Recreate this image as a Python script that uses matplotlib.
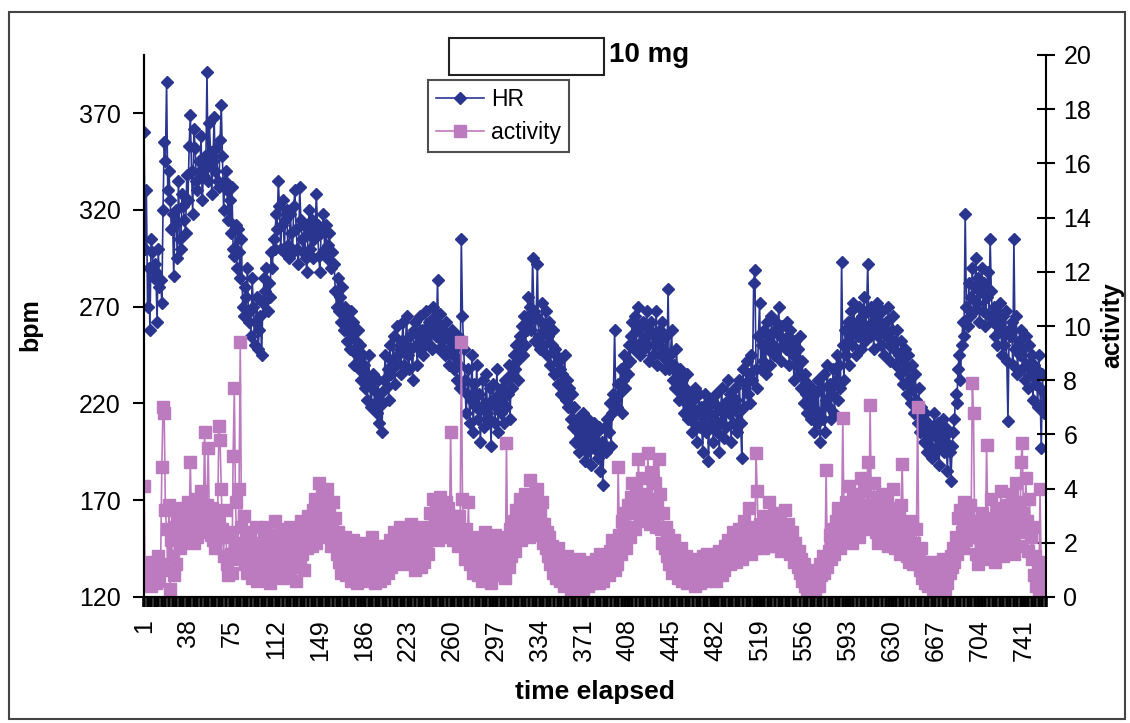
import numpy as np
import matplotlib
matplotlib.use("Agg")
from matplotlib import pyplot as plt
from matplotlib.patches import Rectangle

plt.rcParams['font.family'] = ['Liberation Sans', 'DejaVu Sans']

# heart rate (bpm), one value per time step
hr = [
    360, 300, 330, 270, 290, 258, 305, 298, 285, 292, 288, 262, 300, 280, 284, 272, 320, 355, 345, 386,
    330, 340, 325, 310, 318, 286, 312, 320, 295, 335, 305, 300, 328, 322, 315, 308, 338, 325, 353, 369,
    340, 318, 362, 352, 335, 330, 345, 340, 358, 325, 338, 348, 342, 391, 335, 365, 350, 328, 345, 368,
    340, 352, 335, 332, 356, 374, 348, 320, 335, 340, 330, 315, 325, 308, 332, 300, 296, 312, 290, 310,
    298, 285, 305, 270, 265, 280, 275, 290, 262, 268, 255, 285, 270, 250, 262, 275, 248, 258, 265, 245,
    272, 285, 278, 290, 268, 282, 275, 298, 290, 305, 300, 318, 310, 335, 322, 300, 312, 325, 298, 315,
    320, 302, 295, 318, 308, 298, 322, 330, 310, 300, 292, 332, 315, 305, 298, 312, 295, 288, 308, 320,
    300, 315, 295, 305, 310, 328, 312, 296, 288, 308, 310, 318, 300, 312, 295, 302, 308, 290, 298, 292,
    292, 278, 270, 285, 268, 275, 262, 280, 258, 270, 265, 252, 260, 248, 268, 255, 262, 240, 252, 245,
    258, 238, 250, 232, 245, 240, 228, 235, 222, 245, 230, 218, 228, 235, 220, 226, 215, 232, 210, 225,
    205, 220, 232, 245, 228, 238, 222, 250, 235, 242, 255, 230, 240, 260, 245, 248, 235, 252, 262, 240,
    250, 265, 245, 238, 255, 248, 232, 258, 262, 250, 240, 255, 265, 248, 258, 245, 252, 268, 255, 260,
    262, 250, 248, 270, 258, 265, 255, 284, 248, 266, 260, 252, 258, 245, 262, 255, 248, 240, 252, 258,
    245, 238, 250, 232, 255, 240, 228, 305, 265, 248, 232, 215, 225, 238, 210, 222, 245, 205, 230, 218,
    240, 212, 225, 200, 218, 232, 208, 220, 235, 215, 212, 228, 198, 222, 230, 210, 218, 238, 205, 225,
    215, 228, 220, 210, 232, 218, 225, 240, 212, 235, 228, 245, 238, 250, 242, 232, 255, 248, 260, 245,
    265, 250, 258, 275, 262, 270, 258, 295, 268, 252, 265, 292, 255, 248, 262, 272, 250, 258, 268, 245,
    255, 262, 240, 250, 258, 235, 248, 245, 230, 242, 238, 225, 235, 228, 245, 222, 232, 218, 228, 212,
    225, 208, 218, 200, 212, 205, 195, 210, 198, 215, 202, 190, 208, 195, 212, 200, 188, 205, 198, 210,
    196, 205, 192, 208, 185, 200, 178, 198, 208, 195, 212, 205, 220, 198, 215, 225, 258, 222, 218, 230,
    225, 238, 215, 232, 245, 228, 240, 235, 250, 242, 255, 262, 248, 265, 250, 258, 270, 245, 260, 252,
    262, 248, 255, 268, 250, 242, 258, 262, 245, 255, 250, 268, 240, 252, 258, 245, 262, 248, 238, 255,
    242, 279, 238, 245, 258, 232, 240, 228, 248, 235, 222, 238, 225, 232, 215, 228, 220, 235, 212, 225,
    218, 205, 222, 210, 228, 200, 215, 225, 208, 218, 195, 212, 225, 205, 220, 190, 215, 208, 222, 200,
    212, 225, 205, 218, 195, 210, 228, 215, 202, 220, 208, 232, 215, 225, 200, 218, 210, 228, 222, 205,
    215, 232, 210, 192, 238, 218, 230, 242, 225, 235, 220, 245, 232, 282, 289, 238, 228, 255, 272, 238,
    250, 242, 258, 235, 262, 248, 255, 240, 265, 250, 245, 258, 262, 248, 270, 255, 242, 260, 250, 252,
    248, 262, 255, 240, 258, 250, 245, 232, 252, 240, 248, 235, 255, 228, 242, 220, 235, 225, 215, 230,
    222, 212, 228, 218, 205, 225, 210, 232, 215, 200, 228, 212, 235, 205, 222, 240, 218, 230, 212, 225,
    238, 215, 232, 245, 222, 240, 228, 293, 250, 232, 258, 245, 262, 240, 255, 268, 250, 272, 258, 245,
    262, 255, 270, 248, 265, 258, 275, 252, 268, 292, 260, 255, 270, 262, 248, 265, 258, 272, 255, 262,
    250, 268, 258, 245, 262, 255, 270, 250, 242, 258, 265, 248, 252, 240, 258, 245, 235, 252, 242, 230,
    248, 238, 225, 245, 232, 220, 240, 228, 215, 235, 222, 210, 228, 205, 218, 212, 200, 215, 205, 195,
    210, 198, 208, 192, 205, 215, 195, 202, 210, 188, 205, 198, 212, 195, 208, 200, 185, 205, 195, 180,
    198, 205, 212, 225, 220, 238, 245, 232, 250, 262, 255, 318, 270, 260, 282, 265, 275, 290, 268, 280,
    295, 272, 285, 262, 278, 290, 268, 282, 260, 275, 288, 265, 305, 278, 262, 270, 255, 268, 250, 262,
    272, 258, 245, 265, 250, 268, 242, 211, 258, 255, 262, 240, 305, 248, 265, 235, 252, 245, 258, 238,
    248, 232, 255, 240, 228, 250, 235, 245, 222, 240, 230, 238, 218, 245, 228, 197, 235, 215, 225, 218,
]

# activity counts, same time steps
activity = [
    4.1, 0.8, 0.5, 1.2, 0.6, 1.0, 0.4, 1.3, 0.7, 1.1, 0.5, 0.9, 1.5, 0.6, 1.2, 4.8, 7.0, 6.8, 3.2, 2.5,
    1.0, 3.4, 0.3, 2.1, 1.5, 0.8, 2.6, 1.2, 3.0, 2.2, 1.8, 2.9, 3.3, 2.0, 2.7, 3.1, 2.4, 3.5, 2.8, 5.0,
    2.5, 3.2, 2.0, 2.8, 3.6, 2.2, 3.0, 2.6, 3.9, 2.4, 3.1, 6.1, 2.7, 3.4, 5.5, 2.9, 2.3, 3.3, 2.1, 2.8,
    1.8, 2.6, 3.0, 6.3, 5.8, 4.0, 2.5, 1.5, 3.2, 2.2, 1.2, 0.8, 2.4, 1.6, 0.9, 5.2, 7.7, 3.5, 2.0, 1.4,
    4.0, 9.4, 2.6, 1.8, 3.0, 1.2, 2.2, 0.9, 1.6, 2.4, 1.1, 0.7, 1.9, 1.3, 2.6, 0.6, 1.5, 2.0, 1.0, 1.7,
    0.8, 2.2, 1.4, 2.6, 1.1, 1.8, 0.5, 2.3, 1.3, 1.9, 2.8, 1.5, 0.9, 2.1, 1.6, 2.5, 1.2, 0.7, 1.8, 2.2,
    1.4, 2.0, 0.9, 2.6, 1.7, 1.1, 2.3, 1.5, 0.6, 1.9, 2.4, 1.2, 2.8, 1.6, 2.1, 1.0, 2.5, 1.8, 3.0, 2.2,
    2.7, 1.9, 3.2, 2.4, 3.6, 2.0, 2.9, 4.2, 3.1, 2.5, 3.8, 2.2, 3.4, 2.8, 4.0, 2.6, 3.3, 1.9, 2.7, 3.5,
    2.1, 2.9, 1.6, 2.4, 1.3, 2.0, 0.9, 1.7, 1.2, 2.2, 0.8, 1.5, 1.0, 1.9, 0.6, 1.3, 2.1, 0.9, 1.6, 0.5,
    1.2, 1.8, 0.7, 1.4, 0.9, 2.0, 1.1, 0.6, 1.7, 1.3, 0.8, 1.5, 2.2, 1.0, 0.5, 1.4, 1.9, 0.8, 1.2, 0.6,
    1.0, 1.6, 0.7, 1.3, 1.9, 0.9, 1.5, 2.1, 1.1, 1.7, 2.4, 1.4, 2.0, 1.2, 1.8, 2.6, 1.5, 2.2, 1.3, 1.9,
    2.5, 1.6, 2.1, 1.2, 1.8, 2.7, 1.4, 2.2, 1.0, 1.7, 2.3, 1.5, 1.9, 1.1, 2.0, 2.6, 1.3, 1.8, 2.4, 1.6,
    2.2, 3.1, 2.6, 3.6, 2.3, 2.9, 3.4, 2.1, 2.8, 3.7, 2.4, 3.2, 2.7, 3.0, 3.5, 2.5, 3.3, 2.2, 6.1, 2.6,
    2.1, 3.0, 2.4, 2.8, 1.9, 3.0, 2.4, 9.4, 3.6, 2.0, 1.4, 2.5, 1.8, 3.5, 1.2, 2.1, 1.6, 0.9, 1.9, 1.3,
    1.6, 0.8, 2.2, 1.4, 0.6, 1.8, 1.1, 2.4, 0.7, 1.5, 2.0, 1.2, 0.5, 1.7, 1.0, 2.3, 1.4, 0.8, 1.9, 1.2,
    0.9, 1.6, 2.2, 1.3, 0.7, 5.7, 1.8, 1.1, 2.5, 1.5, 2.0, 2.8, 1.7, 3.2, 2.3, 2.9, 3.6, 2.1, 2.7, 3.3,
    2.4, 3.8, 2.9, 3.4, 2.2, 4.3, 3.0, 2.5, 3.7, 2.8, 3.3, 4.0, 2.6, 3.1, 2.3, 3.5, 2.0, 2.7, 1.8, 2.4,
    1.5, 2.2, 1.2, 1.9, 0.9, 1.6, 1.3, 0.7, 1.8, 1.1, 0.6, 1.4, 0.9, 0.4, 1.2, 0.8, 1.5, 0.5, 1.0, 0.3,
    0.9, 1.3, 0.6, 1.1, 0.4, 0.8, 1.4, 0.5, 1.0, 0.2, 0.7, 1.2, 0.6, 1.0, 0.4, 0.9, 1.3, 0.5, 1.1, 0.8,
    1.4, 0.7, 1.2, 0.5, 1.6, 1.0, 0.6, 1.3, 0.9, 1.5, 1.1, 0.8, 1.7, 1.2, 2.1, 1.4, 1.0, 1.8, 1.2, 4.8,
    2.3, 1.6, 2.8, 2.0, 3.1, 2.4, 1.8, 3.4, 2.6, 2.2, 3.7, 4.2, 3.3, 2.5, 4.0, 3.1, 5.1, 3.5, 2.8, 4.4,
    3.2, 3.8, 3.0, 2.9, 5.3, 3.4, 2.7, 4.6, 3.6, 3.0, 4.2, 2.6, 3.4, 5.1, 3.8, 2.5, 2.0, 3.1, 1.8, 2.6,
    1.5, 2.3, 1.2, 1.9, 0.9, 1.6, 2.1, 1.1, 1.7, 0.7, 1.4, 1.0, 1.8, 0.6, 1.3, 0.9, 1.5, 0.5, 1.1, 0.8,
    1.2, 0.6, 1.4, 0.9, 0.4, 1.1, 0.7, 1.3, 0.5, 1.0, 1.5, 0.8, 1.2, 0.6, 1.6, 1.0, 0.7, 1.3, 0.9, 1.5,
    1.1, 0.6, 1.4, 0.9, 1.7, 1.2, 0.8, 1.5, 1.0, 1.9, 1.3, 2.1, 1.6, 1.2, 2.0, 1.5, 2.4, 1.8, 1.3, 2.2,
    1.7, 2.5, 1.9, 1.4, 2.3, 2.8, 1.8, 2.4, 2.0, 3.3, 2.2, 1.6, 2.6, 2.1, 1.8, 5.3, 3.9, 1.9, 2.7, 2.0,
    2.5, 1.8, 3.0, 2.2, 2.7, 1.9, 3.5, 2.4, 2.0, 2.8, 2.3, 3.1, 1.9, 2.6, 2.2, 2.9, 1.7, 2.4, 2.0, 3.2,
    2.5, 1.9, 2.7, 2.2, 1.6, 2.4, 1.8, 1.3, 2.0, 1.5, 1.1, 1.7, 0.9, 1.4, 0.6, 1.2, 0.4, 1.0, 0.3, 0.8,
    0.5, 0.2, 0.9, 0.3, 0.7, 0.1, 0.6, 1.0, 0.4, 1.2, 0.8, 1.5, 0.9, 1.3, 4.7, 1.1, 1.7, 2.3, 1.4, 1.9,
    2.5, 1.6, 2.8, 2.1, 3.3, 2.4, 1.8, 2.7, 6.6, 2.9, 2.2, 3.5, 2.6, 4.1, 2.3, 3.0, 2.0, 3.8, 2.5, 3.2,
    2.7, 3.6, 2.2, 4.4, 3.0, 2.5, 3.9, 2.8, 3.3, 5.0, 2.6, 7.1, 3.4, 2.9, 4.2, 3.1, 2.4, 3.7, 2.0, 3.2,
    2.6, 3.8, 2.1, 3.0, 2.4, 3.5, 1.9, 2.8, 3.3, 2.2, 4.0, 2.7, 1.8, 3.1, 2.3, 2.9, 1.6, 3.4, 4.9, 2.5,
    1.9, 2.6, 1.5, 2.2, 1.3, 2.8, 1.8, 1.2, 2.0, 1.6, 2.5, 7.0, 1.4, 1.0, 1.8, 0.7, 1.3, 0.5, 1.1, 0.8,
    0.4, 1.0, 0.6, 1.3, 0.3, 0.9, 0.5, 1.2, 0.7, 0.4, 1.1, 0.6, 1.4, 0.8, 0.3, 1.0, 0.5, 1.2, 0.9, 1.5,
    1.1, 1.8, 1.3, 2.2, 1.6, 2.9, 2.0, 3.2, 2.4, 1.8, 3.5, 2.6, 2.1, 3.0, 2.5, 3.4, 2.8, 7.9, 6.8, 2.2,
    1.6, 2.7, 1.2, 2.3, 1.8, 3.1, 1.4, 2.5, 2.0, 5.6, 2.9, 1.7, 2.4, 3.6, 1.9, 2.8, 1.3, 2.2, 3.3, 1.7,
    2.6, 3.9, 2.1, 1.5, 3.0, 2.4, 1.8, 3.4, 2.7, 2.0, 3.8, 2.3, 1.6, 2.9, 4.2, 2.5, 3.5, 1.9, 5.0, 5.7,
    3.1, 2.4, 4.4, 2.8, 1.7, 3.6, 2.2, 1.4, 2.6, 0.8, 1.5, 0.4, 1.1, 0.3, 4.0, 0.9, 0.2, 1.3, 0.6, 1.0,
]

hr_ticks = [120, 170, 220, 270, 320, 370]
act_ticks = list(range(0, 21, 2))
label_step = 37

HR_COLOR = '#2A3590'
ACT_COLOR = '#BC7ABF'

x = np.arange(1, len(hr) + 1)
W, H = 1130, 723

fig = plt.figure(figsize=(W / 100, H / 100), dpi=100)
ax = fig.add_axes([144 / W, 1 - 597 / H, (1046 - 144) / W, (597 - 55) / H])
ax2 = ax.twinx()

l1, = ax.plot(x, hr, color=HR_COLOR, lw=1.2, marker='D', ms=6.5, mec=HR_COLOR, label='HR')
l2, = ax2.plot(x, activity, color=ACT_COLOR, lw=1.2, marker='s', ms=8, mec=ACT_COLOR, label='activity')

ax.set_xlim(1, len(hr))
ax.set_ylim(120, 400)
ax2.set_ylim(0, 20)
ax.set_yticks(hr_ticks)
ax2.set_yticks(act_ticks)

ax.set_xticks(x[::label_step])
ax.set_xticks(x[::3], minor=True)
ax.set_xticklabels([str(v) for v in x[::label_step]], rotation=90)

for a in (ax, ax2):
    a.spines['top'].set_visible(False)
    for s in a.spines.values():
        s.set_linewidth(1.5)
ax.spines['right'].set_visible(False)

ax.tick_params(axis='y', direction='out', length=8, width=1.5, labelsize=18, pad=9)
ax2.tick_params(axis='y', direction='inout', length=13, width=1.5, labelsize=18, pad=6)
ax.tick_params(axis='x', which='both', direction='out', length=7, width=2.6, labelsize=18, pad=9)

fig.text(30 / W, 1 - 325 / H, 'bpm', rotation=90, fontsize=18, fontweight='bold', ha='center', va='center')
fig.text(1112 / W, 1 - 325 / H, 'activity', rotation=90, fontsize=18, fontweight='bold', ha='center', va='center')
fig.text(595 / W, 1 - 692 / H, 'time elapsed', fontsize=19, fontweight='bold', ha='center', va='center')

# empty box with the dose label
fig.patches.append(Rectangle((449 / W, 1 - 75 / H), (604 - 449) / W, (75 - 38) / H,
                             transform=fig.transFigure, fill=True, facecolor='white',
                             edgecolor='#222222', lw=1.5))
fig.text(609 / W, 1 - 55 / H, '10 mg', fontsize=20, fontweight='bold', ha='left', va='center')

# outer frame
fig.patches.append(Rectangle((9 / W, 1 - 719 / H), (1125 - 9) / W, (719 - 12) / H,
                             transform=fig.transFigure, fill=False, edgecolor='#444444', lw=1.5))

leg = fig.legend(handles=[l1, l2], loc='upper left', bbox_to_anchor=(428 / W, 1 - 80 / H),
                 fontsize=16.5, frameon=True, fancybox=False, handlelength=2.1,
                 handletextpad=0.3, labelspacing=0.45, borderpad=0.35, borderaxespad=0)
leg.get_frame().set_edgecolor('#222222')
leg.get_frame().set_linewidth(1.5)

fig.savefig('out.png', dpi=100)
